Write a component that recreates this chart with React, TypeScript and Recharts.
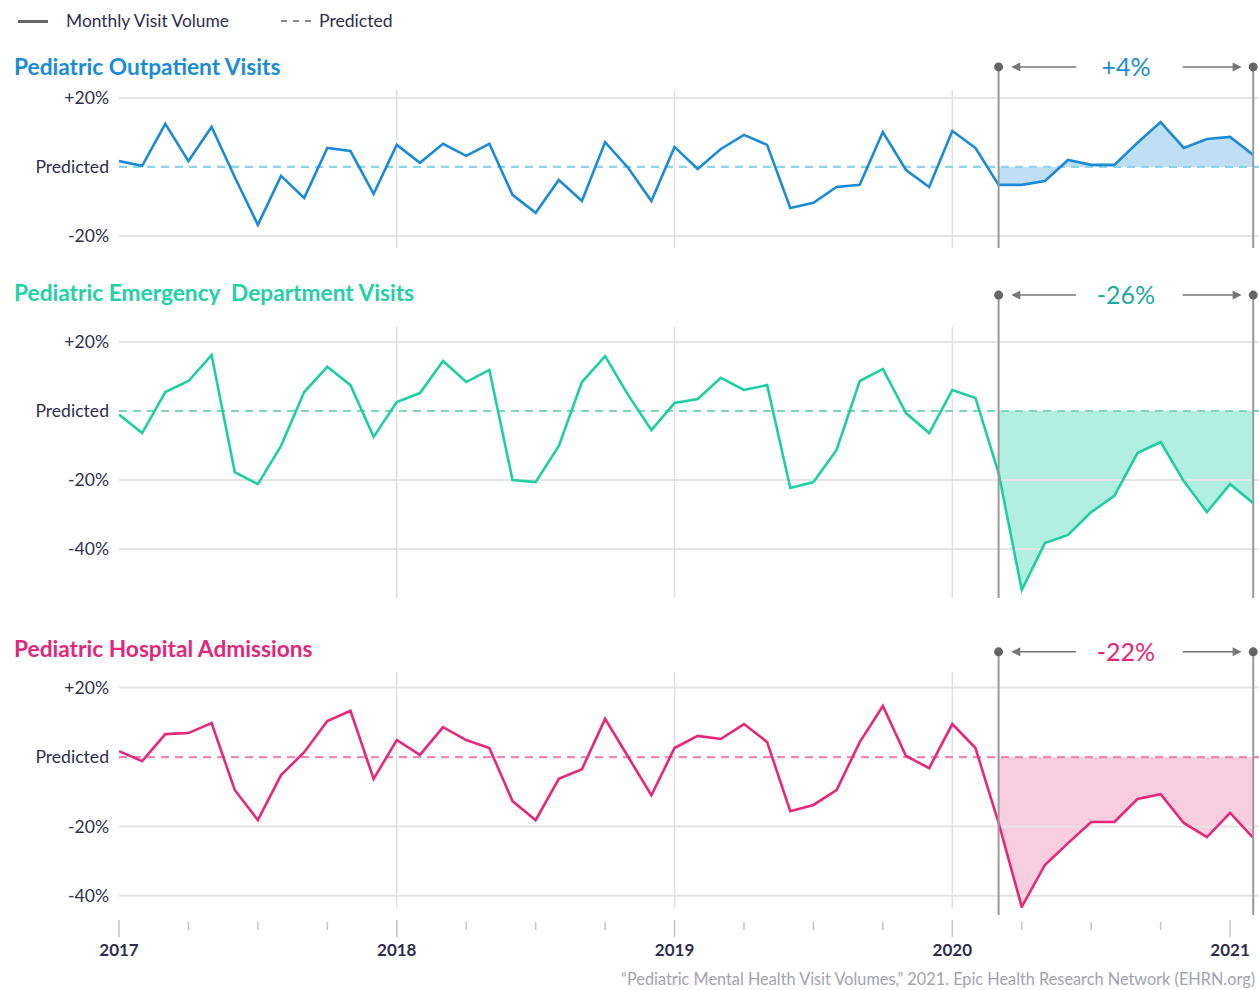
import React from "react";
import {
  ComposedChart,
  Line,
  Area,
  XAxis,
  YAxis,
  ReferenceLine,
  ReferenceDot,
} from "recharts";

// monthly % deviation from predicted, Jan 2017 .. Feb 2021
const outpatientVisits = [
  1.7, 0.3, 12.5, 1.7, 11.6, -2.9, -16.8, -2.6, -9.0, 5.5, 4.6, -7.8,
  6.4, 1.2, 6.7, 3.2, 6.7, -8.1, -13.3, -3.8, -9.9, 7.2, -0.3, -9.9,
  5.8, -0.6, 5.2, 9.3, 6.4, -11.9, -10.4, -5.8, -5.2, 10.1, -0.9, -5.8,
  10.4, 5.5, -5.2, -5.2, -4.1, 2.0, 0.6, 0.6, 7.0, 13.0, 5.5, 8.1,
  8.7, 3.5,
];

const emergencyVisits = [
  -1.0, -6.4, 5.5, 8.7, 16.2, -17.7, -21.2, -10.1, 5.5, 12.8, 7.5, -7.5,
  2.6, 5.2, 14.5, 8.4, 11.9, -20.0, -20.6, -10.1, 8.4, 15.9, 4.6, -5.5,
  2.3, 3.5, 9.6, 6.1, 7.5, -22.3, -20.6, -11.3, 8.7, 12.2, -0.6, -6.4,
  6.1, 3.8, -18.0, -51.9, -38.3, -35.9, -29.3, -24.6, -12.2, -9.0, -20.3, -29.3,
  -21.2, -26.7,
];

const hospitalAdmissions = [
  1.7, -1.2, 6.6, 6.9, 9.8, -9.5, -18.2, -5.2, 1.4, 10.4, 13.3, -6.3,
  4.9, 0.6, 8.6, 4.9, 2.6, -12.7, -18.2, -6.3, -3.5, 11.0, 0.0, -11.0,
  2.6, 6.1, 5.2, 9.5, 4.3, -15.6, -13.8, -9.5, 4.3, 14.7, 0.3, -3.2,
  9.5, 2.6, -19.0, -43.2, -31.1, -24.8, -18.7, -18.7, -12.1, -10.7, -19.0, -23.1,
  -16.1, -23.3,
];

const changeLabels = ["+4%", "-26%", "-22%"];
const yearLabels = ["2017", "2018", "2019", "2020", "2021"];
const quarterTicks = [0, 3, 6, 9, 12, 15, 18, 21, 24, 27, 30, 33, 36, 39, 42, 45, 48];
const yearLines = [12, 24, 36];

const PANDEMIC_START = 38; // Mar 2020
const LAST_MONTH = 49; // Feb 2021

const FONT = "Lato, 'Open Sans', sans-serif";
const INK = "#2e2e4e";
const GRID = "#e4e4e4";
const MARK = "#9a9a9a";

const fmtY = (v: number) => (v === 0 ? "Predicted" : v > 0 ? `+${v}%` : `${v}%`);

const Arrow = (p: any) => {
  const { x1, y1, x2, y2 } = p;
  const dir = Math.sign(x2 - x1);
  return (
    <g>
      <line x1={x1} y1={y1} x2={x2 - dir * 6} y2={y2} stroke="#777" strokeWidth={1.5} />
      <path
        d={`M${x2},${y2} L${x2 - dir * 9},${y2 - 4.5} L${x2 - dir * 9},${y2 + 4.5} Z`}
        fill="#777"
      />
    </g>
  );
};

const MonthTick = (p: any) => {
  const { x, y, payload } = p;
  const isYear = payload.value % 12 === 0;
  return (
    <g>
      <line
        x1={x}
        x2={x}
        y1={y + (isYear ? 12 : 14)}
        y2={y + (isYear ? 29 : 22)}
        stroke="#c4c4c4"
        strokeWidth={1.5}
      />
      {isYear && (
        <text
          x={x}
          y={y + 48}
          textAnchor="middle"
          fill={INK}
          fontSize={17}
          fontWeight={700}
          fontFamily={FONT}
        >
          {yearLabels[payload.value / 12]}
        </text>
      )}
    </g>
  );
};

interface PanelProps {
  values: number[];
  color: string;
  dash: string;
  fillOpacity: number;
  label: string;
  labelColor: string;
  top: number;
  marginTop: number;
  plotHeight: number;
  domain: [number, number];
  yTicks: number[];
  markTop: number;
  markBottom: number;
  showX?: boolean;
}

const Panel = (props: PanelProps) => {
  const data = props.values.map((v, i) => ({
    m: i,
    v,
    gap: i >= PANDEMIC_START ? v : null,
  }));
  const xh = props.showX ? 60 : 0;
  const height = props.marginTop + props.plotHeight + (props.showX ? 0 : 2) + xh;
  const ay = props.markTop;

  return (
    <div style={{ position: "absolute", left: 0, top: props.top }}>
      <ComposedChart
        width={1259}
        height={height}
        data={data}
        margin={{ top: props.marginTop, right: 0, bottom: props.showX ? 0 : 2, left: 0 }}
      >
        <XAxis
          dataKey="m"
          type="number"
          domain={[0, 49.25]}
          allowDataOverflow
          hide={!props.showX}
          ticks={quarterTicks}
          interval={0}
          axisLine={false}
          tickLine={false}
          tickSize={0}
          tickMargin={0}
          height={60}
          tick={<MonthTick />}
        />
        <YAxis
          type="number"
          domain={props.domain}
          allowDataOverflow
          ticks={props.yTicks}
          interval={0}
          width={119}
          axisLine={false}
          tickLine={false}
          tickSize={0}
          tickMargin={10}
          tickFormatter={fmtY}
          tick={{ fill: INK, fontSize: 17.6, fontFamily: FONT }}
        />

        {props.yTicks
          .filter((t) => t !== 0)
          .map((t) => (
            <ReferenceLine key={`h${t}`} y={t} stroke={GRID} strokeWidth={2} />
          ))}
        {yearLines.map((m) => (
          <ReferenceLine key={`v${m}`} x={m} stroke="#e0e0e0" strokeWidth={1.5} />
        ))}
        <ReferenceLine y={0} stroke={props.dash} strokeWidth={2.2} strokeDasharray="8 6" />

        <Area
          dataKey="gap"
          baseValue={0}
          fill={props.color}
          fillOpacity={props.fillOpacity}
          stroke="none"
          isAnimationActive={false}
          activeDot={false}
        />
        <Line
          dataKey="v"
          stroke={props.color}
          strokeWidth={2.6}
          dot={false}
          activeDot={false}
          isAnimationActive={false}
        />

        {[PANDEMIC_START, LAST_MONTH].map((m) => (
          <ReferenceLine
            key={`mk${m}`}
            segment={[
              { x: m, y: ay },
              { x: m, y: props.markBottom },
            ]}
            stroke={MARK}
            strokeWidth={2}
            ifOverflow="visible"
          />
        ))}
        {[PANDEMIC_START, LAST_MONTH].map((m) => (
          <ReferenceDot
            key={`d${m}`}
            x={m}
            y={ay}
            r={4.5}
            fill="#666"
            stroke="none"
            ifOverflow="visible"
          />
        ))}
        <ReferenceLine
          segment={[
            { x: 41.35, y: ay },
            { x: 38.55, y: ay },
          ]}
          ifOverflow="visible"
          shape={Arrow}
        />
        <ReferenceLine
          segment={[
            { x: 45.95, y: ay },
            { x: 48.5, y: ay },
          ]}
          ifOverflow="visible"
          shape={Arrow}
        />
        <ReferenceDot
          x={43.5}
          y={ay}
          r={1}
          ifOverflow="visible"
          shape={(p: any) => (
            <text
              x={p.cx}
              y={p.cy}
              dy="0.36em"
              textAnchor="middle"
              fill={props.labelColor}
              fontSize={25}
              fontFamily={FONT}
            >
              {props.label}
            </text>
          )}
        />
      </ComposedChart>
    </div>
  );
};

const titleStyle = (top: number, color: string): React.CSSProperties => ({
  position: "absolute",
  left: 14,
  top,
  fontSize: 22.7,
  lineHeight: "23px",
  fontWeight: 700,
  color,
  whiteSpace: "pre",
});

export default function App() {
  return (
    <div
      style={{
        position: "absolute",
        left: 0,
        top: 0,
        width: 1259,
        height: 990,
        background: "#fff",
        fontFamily: FONT,
        overflow: "hidden",
      }}
    >
      {/* legend */}
      <div style={{ position: "absolute", left: 18, top: 20, width: 30, height: 2.5, background: "#666" }} />
      <div style={{ position: "absolute", left: 66, top: 12, fontSize: 17.4, lineHeight: "18px", color: INK }}>
        Monthly Visit Volume
      </div>
      <svg style={{ position: "absolute", left: 280, top: 18 }} width={34} height={6}>
        <line x1={1} y1={3} x2={33} y2={3} stroke="#666" strokeWidth={1.5} strokeDasharray="6 6" />
      </svg>
      <div style={{ position: "absolute", left: 319, top: 12, fontSize: 17.6, lineHeight: "18px", color: INK }}>
        Predicted
      </div>

      <div style={titleStyle(55, "#1b8bd6")}>Pediatric Outpatient Visits</div>
      <div style={titleStyle(281, "#24d0a6")}>Pediatric Emergency  Department Visits</div>
      <div style={titleStyle(637, "#e0287a")}>Pediatric Hospital Admissions</div>

      <Panel
        values={outpatientVisits}
        color="#1b8bd6"
        dash="#8dd3ee"
        fillOpacity={0.28}
        label={changeLabels[0]}
        labelColor="#1b8bd6"
        top={40}
        marginTop={50}
        plotHeight={158}
        domain={[-23.5, 22.3]}
        yTicks={[20, 0, -20]}
        markTop={29}
        markBottom={-23.5}
      />
      <Panel
        values={emergencyVisits}
        color="#1ecfa3"
        dash="#7fd6b4"
        fillOpacity={0.34}
        label={changeLabels[1]}
        labelColor="#1fa9a0"
        top={270}
        marginTop={57}
        plotHeight={271}
        domain={[-54.2, 24.35]}
        yTicks={[20, 0, -20, -40]}
        markTop={33.6}
        markBottom={-54.2}
      />
      <Panel
        values={hospitalAdmissions}
        color="#e6287a"
        dash="#f088b7"
        fillOpacity={0.23}
        label={changeLabels[2]}
        labelColor="#e6287a"
        top={630}
        marginTop={42}
        plotHeight={236}
        domain={[-43.5, 24.5]}
        yTicks={[20, 0, -20, -40]}
        markTop={30.3}
        markBottom={-45.5}
        showX
      />

      <div
        style={{
          position: "absolute",
          right: 4,
          top: 970,
          fontSize: 16.3,
          lineHeight: "17px",
          color: "#a3a3ad",
          whiteSpace: "nowrap",
        }}
      >
        “Pediatric Mental Health Visit Volumes,” 2021. Epic Health Research Network (EHRN.org)
      </div>
    </div>
  );
}
